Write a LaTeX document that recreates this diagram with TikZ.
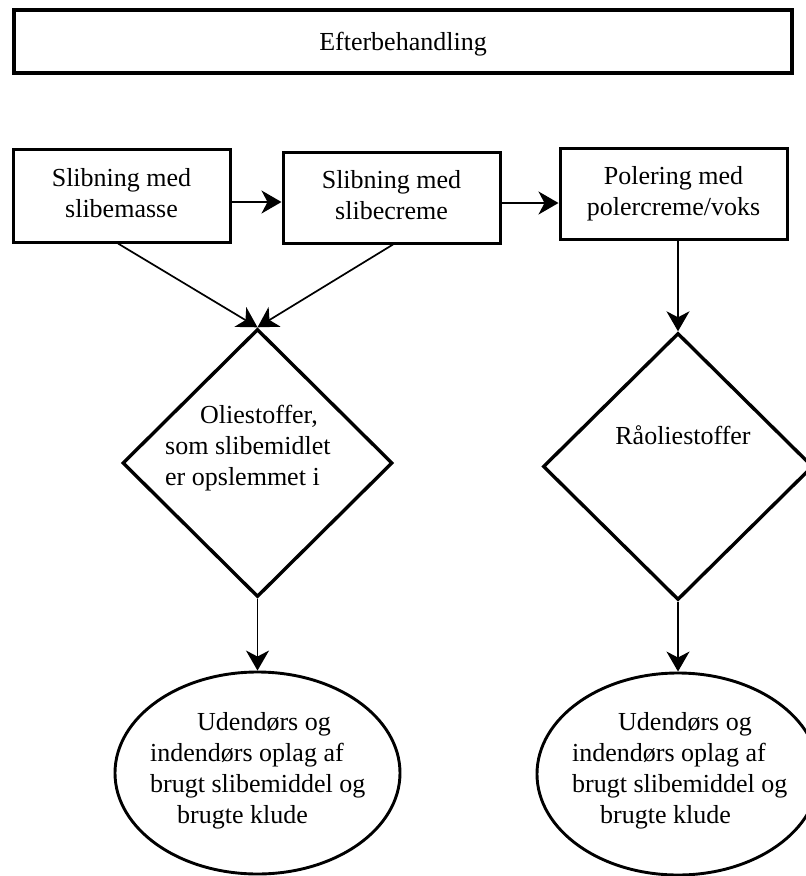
\documentclass[tikz,border=0pt]{standalone}
\usepackage{fontspec}
\setmainfont{Liberation Serif}
\usetikzlibrary{shapes.geometric,arrows.meta}

\tikzset{
  txt/.style={font=\fontsize{26}{31}\selectfont, inner sep=0pt},
  stepbox/.style={draw, line width=3pt, rectangle, inner sep=0pt, txt},
  titlebox/.style={draw, line width=3.2pt, rectangle, inner sep=0pt, txt},
  decision/.style={draw, line width=3.4pt, diamond, inner sep=0pt},
  store/.style={draw, line width=2.9pt, ellipse, inner sep=0pt},
  flow/.style={line width=1.7pt, -{Stealth[length=20pt, width=23pt, inset=6pt]}},
}

\newcommand{\lines}[2][c]{\begin{tabular}{@{}#1@{}}#2\end{tabular}}
\newcommand{\toplines}[1]{\begin{tabular}[t]{@{}l@{}}#1\end{tabular}}

\begin{document}
\begin{tikzpicture}[x=1pt, y=-1pt]
  \useasboundingbox (0,0) rectangle (806,876);
  \clip (0,0) rectangle (806,876);

  % heading
  \node[titlebox, text depth=0pt, minimum width=778pt, minimum height=63pt] (title) at (403,41.5)
    {Efterbehandling};

  % process steps
  \node[stepbox, minimum width=217pt, minimum height=93pt] (b1) at (121.5,195.5)
    {\lines{Slibning med\\slibemasse}};
  \node[stepbox, minimum width=217pt, minimum height=91pt] (b2) at (391.5,197.5)
    {\lines{Slibning med\\slibecreme}};
  \node[stepbox, minimum width=227pt, minimum height=91pt] (b3) at (673.5,193.5)
    {\lines{Polering med\\polercreme/voks}};

  % substances
  \node[decision, minimum width=270pt, minimum height=268pt] (d1) at (257.5,463) {};
  \node[decision, minimum width=270pt, minimum height=267pt] (d2) at (678,466.5) {};
  \node[txt, anchor=base west] (d1t) at (165,423)
    {\toplines{\hspace*{35pt}Oliestoffer,\\som slibemidlet\\er opslemmet i}};
  \node[txt, anchor=base] (d2t) at (683,444) {Råoliestoffer};

  % waste storage
  \node[store, minimum width=285pt, minimum height=202pt] (e1) at (257.5,773) {};
  \node[store, minimum width=282pt, minimum height=202pt] (e2) at (678,774) {};
  \node[txt, anchor=base west] (e1t) at (150,730)
    {\toplines{\hspace*{47pt}Udendørs og\\indendørs oplag af\\brugt slibemiddel og\\\hspace*{27pt}brugte klude}};
  \node[txt, anchor=base west] (e2t) at (572,730)
    {\toplines{\hspace*{46pt}Udendørs og\\indendørs oplag af\\brugt slibemiddel og\\\hspace*{28pt}brugte klude}};

  % connectors
  \draw[flow] ([yshift=-6.5pt]b1.east) -- ([yshift=-4.5pt]b2.west);
  \draw[flow] ([yshift=-5.5pt]b2.east) -- ([yshift=-9.5pt]b3.west);
  \draw[flow] ([xshift=-3.5pt]b1.south) -- (d1.north);
  \draw[flow] ([xshift=1.5pt]b2.south) -- (d1.north);
  \draw[flow] ([xshift=4.5pt]b3.south) -- (d2.north);
  \draw[flow] (d1.south) -- (e1.north);
  \draw[flow] (d2.south) -- (e2.north);
\end{tikzpicture}
\end{document}
